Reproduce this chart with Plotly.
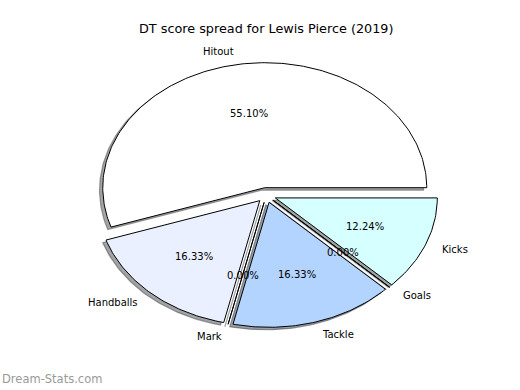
import math
import plotly.graph_objects as go

# ---- data ----
labels = ["Hitout", "Handballs", "Mark", "Tackle", "Goals", "Kicks"]
values = [27, 8, 0, 8, 0, 6]
colors = ["#ffffff", "#eaf0ff", "#c8dcff", "#b3d4ff", "#c0f0ff", "#d6ffff"]
explode = [0.06, 0.06, 0.06, 0.06, 0.06, 0.06]
title = "DT score spread for Lewis Pierce (2019)"
watermark = "Dream-Stats.com"

# ---- layout constants (pixel fit of the pie ellipse) ----
W, H = 520, 390
CX, CY = 266.3, 195.1   # pie centre in pixels
SX, SY = 162.0, 125.0   # pixels per unit radius
FONT = "DejaVu Sans"

def hex_rgb(h):
    h = h.lstrip("#")
    return tuple(int(h[i:i + 2], 16) for i in (0, 2, 4))

total = float(sum(values))
fig = go.Figure()

wedges = []
theta1 = 0.0
for lab, v, col, ex in zip(labels, values, colors, explode):
    frac = v / total
    theta2 = theta1 + frac
    thetam = math.pi * (theta1 + theta2)
    ox = ex * math.cos(thetam)
    oy = ex * math.sin(thetam)
    n = max(2, int(frac * 360))
    xs, ys = [ox], [oy]
    for i in range(n + 1):
        a = 2 * math.pi * (theta1 + (theta2 - theta1) * i / n)
        xs.append(ox + math.cos(a))
        ys.append(oy + math.sin(a))
    xs.append(ox)
    ys.append(oy)
    wedges.append((lab, v, col, xs, ys, ox, oy, thetam))
    theta1 = theta2

# shadows
for lab, v, col, xs, ys, ox, oy, tm in wedges:
    r, g, b = hex_rgb(col)
    sc = "rgba(%d,%d,%d,0.5)" % (int(0.3 * r), int(0.3 * g), int(0.3 * b))
    fig.add_trace(go.Scatter(
        x=[x - 0.02 for x in xs], y=[y - 0.02 for y in ys],
        mode="lines", fill="toself", fillcolor=sc,
        line=dict(color=sc, width=1.2), hoverinfo="skip", showlegend=False))

# wedges
for lab, v, col, xs, ys, ox, oy, tm in wedges:
    fig.add_trace(go.Scatter(
        x=xs, y=ys, mode="lines", fill="toself", fillcolor=col,
        line=dict(color="black", width=1), name=lab,
        hoverinfo="name", showlegend=False))

annotations = []
for lab, v, col, xs, ys, ox, oy, tm in wedges:
    xt = ox + 1.1 * math.cos(tm)
    yt = oy + 1.1 * math.sin(tm)
    annotations.append(dict(
        x=xt, y=yt, xref="x", yref="y", text=lab, showarrow=False,
        xanchor="left" if xt > 0 else "right", yanchor="middle",
        font=dict(family=FONT, size=10, color="black")))
    xp = ox + 0.6 * math.cos(tm)
    yp = oy + 0.6 * math.sin(tm)
    annotations.append(dict(
        x=xp, y=yp, xref="x", yref="y", text="%.2f%%" % (100 * v / total),
        showarrow=False, xanchor="center", yanchor="middle",
        font=dict(family=FONT, size=10, color="black")))

annotations.append(dict(
    x=CX / W, y=1 - 29 / H, xref="paper", yref="paper", text=title,
    showarrow=False, xanchor="center", yanchor="middle",
    font=dict(family=FONT, size=12.8, color="black")))
annotations.append(dict(
    x=0, y=1 - 379 / H, xref="paper", yref="paper", text=watermark,
    showarrow=False, xanchor="left", yanchor="middle",
    font=dict(family=FONT, size=11.5, color="#9a9a9a")))

fig.update_layout(
    width=W, height=H,
    margin=dict(l=0, r=0, t=0, b=0),
    paper_bgcolor="white", plot_bgcolor="white",
    xaxis=dict(range=[-CX / SX, (W - CX) / SX], visible=False, fixedrange=True),
    yaxis=dict(range=[(CY - H) / SY, CY / SY], visible=False, fixedrange=True),
    annotations=annotations,
    showlegend=False,
)

fig.write_html(
    "out.html",
    config={"displayModeBar": False},
    post_script="document.body.style.margin='0';document.body.style.overflow='hidden';",
)
